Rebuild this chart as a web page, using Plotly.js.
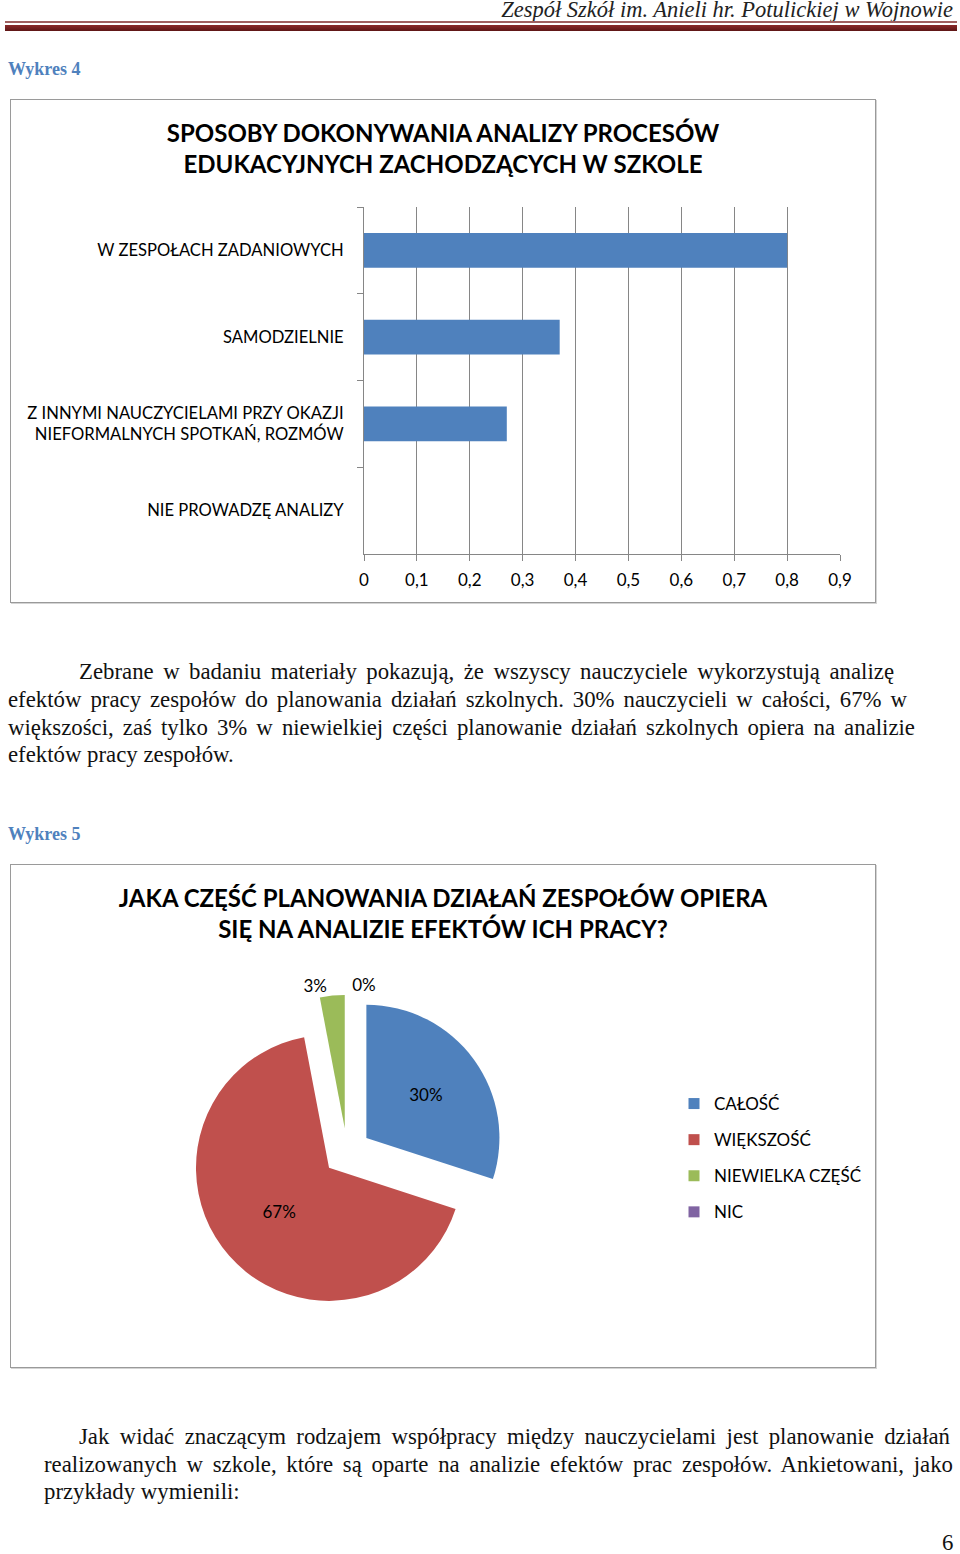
<!DOCTYPE html>
<html>
<head>
<meta charset="utf-8">
<script src="https://cdn.plot.ly/plotly-3.0.1.min.js"></script>
<style>
body { margin: 0; width: 960px; height: 1554px; position: relative; background: #fff; overflow: hidden; }
.abs { position: absolute; white-space: nowrap; }
.head { right: 7px; top: -3px; font: italic 22.5px 'Liberation Serif', serif; color: #222; }
.rule1 { left: 5px; width: 952px; top: 21px; height: 2px; background: #a06060; }
.rule2 { left: 5px; width: 952px; top: 25px; height: 6px; background: linear-gradient(#8a2a2a, #5e1616); }
.cap { left: 8px; font: bold 18px 'Liberation Serif', serif; color: #4F81BD; }
.txt { font: 22.8px 'Liberation Serif', serif; color: #111; line-height: 28px; }
.just { text-align: justify; text-align-last: justify; }
.box { border: 1px solid #9a9a9a; box-shadow: 1px 1px 0 #d4d4d4; }
</style>
</head>
<body>
<div class="abs head">Zespół Szkół im. Anieli hr. Potulickiej w Wojnowie</div>
<div class="abs rule1"></div>
<div class="abs rule2"></div>

<div class="abs cap" style="top:59px">Wykres 4</div>
<div id="bar" class="abs box" style="left:10px; top:99px; width:864px; height:502px;"></div>

<div class="abs txt just" style="left:79px; top:658px; width:815px;">Zebrane w badaniu materiały pokazują, że wszyscy nauczyciele wykorzystują analizę</div>
<div class="abs txt just" style="left:8px; top:686px; width:899px;">efektów pracy zespołów do planowania działań szkolnych. 30% nauczycieli w całości, 67% w</div>
<div class="abs txt just" style="left:8px; top:714px; width:907px;">większości, zaś tylko 3% w niewielkiej części planowanie działań szkolnych opiera na analizie</div>
<div class="abs txt" style="left:8px; top:741px;">efektów pracy zespołów.</div>

<div class="abs cap" style="top:824px">Wykres 5</div>
<div id="pie" class="abs box" style="left:10px; top:864px; width:864px; height:502px;"></div>

<div class="abs txt just" style="left:79px; top:1423px; width:871px;">Jak widać znaczącym rodzajem współpracy między nauczycielami jest planowanie działań</div>
<div class="abs txt just" style="left:44px; top:1451px; width:909px;">realizowanych w szkole, które są oparte na analizie efektów prac zespołów. Ankietowani, jako</div>
<div class="abs txt" style="left:44px; top:1478px;">przykłady wymienili:</div>
<div class="abs txt" style="left:942px; top:1529px;">6</div>

<script>
const FONT = 'Lato, Calibri, sans-serif'

// Wykres 4
const barTitle = 'SPOSOBY DOKONYWANIA ANALIZY PROCESÓW<br>EDUKACYJNYCH ZACHODZĄCYCH W SZKOLE'
const barCategories = [
  'W ZESPOŁACH ZADANIOWYCH',
  'SAMODZIELNIE',
  'Z INNYMI NAUCZYCIELAMI PRZY OKAZJI<br>NIEFORMALNYCH SPOTKAŃ, ROZMÓW',
  'NIE PROWADZĘ ANALIZY'
]
const barValues = [0.8, 0.37, 0.27, 0]

// Wykres 5
const pieTitle = 'JAKA CZĘŚĆ PLANOWANIA DZIAŁAŃ ZESPOŁÓW OPIERA<br>SIĘ NA ANALIZIE EFEKTÓW ICH PRACY?'
const pieLabels = ['CAŁOŚĆ', 'WIĘKSZOŚĆ', 'NIEWIELKA CZĘŚĆ', 'NIC']
const pieValues = [30, 67, 3, 0]
const pieColors = ['#4F81BD', '#C0504D', '#9BBB59', '#8064A2']

const config = {staticPlot: true, displayModeBar: false}
const axisGray = '#868686'
const W = 864, H = 502

const titleOf = (text) => ({
  text: text,
  font: {family: FONT, size: 24, weight: 700, color: '#000'},
  x: 0.5, xanchor: 'center', xref: 'container',
  y: 1 - 42 / H, yanchor: 'top', yref: 'container'
})

const barData = [{
  type: 'bar',
  orientation: 'h',
  x: barValues,
  y: barCategories,
  marker: {color: '#4F81BD'},
  hoverinfo: 'none'
}]
const barLayout = {
  width: W,
  height: H,
  margin: {l: 353, r: 35, t: 107, b: 48},
  font: {family: FONT, size: 16.6, color: '#000'},
  separators: ', ',
  showlegend: false,
  bargap: 0.6,
  paper_bgcolor: '#fff',
  plot_bgcolor: '#fff',
  title: titleOf(barTitle),
  xaxis: {
    range: [0, 0.9],
    tick0: 0,
    dtick: 0.1,
    ticks: 'outside',
    ticklen: 6,
    tickcolor: axisGray,
    showgrid: true,
    gridcolor: axisGray,
    showline: true,
    linecolor: axisGray,
    zeroline: false,
    ticklabelstandoff: 5,
    tickfont: {size: 17}
  },
  yaxis: {
    type: 'category',
    autorange: 'reversed',
    tickson: 'boundaries',
    ticks: 'outside',
    ticklen: 6,
    tickcolor: axisGray,
    showline: true,
    linecolor: axisGray,
    showgrid: false,
    ticklabelstandoff: 16,
    tickfont: {size: 16.6}
  }
}
Plotly.newPlot('bar', barData, barLayout, config)

// pie centre and size in px inside the box
const pcx = 336, pcy = 215, phalf = 157
const pieData = [{
  type: 'pie',
  labels: pieLabels,
  values: pieValues,
  sort: false,
  direction: 'clockwise',
  rotation: 0,
  pull: 0.18,
  marker: {colors: pieColors, line: {width: 0}},
  texttemplate: '%{percent:.0%}',
  textposition: ['inside', 'inside', 'outside', 'outside'],
  insidetextorientation: 'horizontal',
  textfont: {family: FONT, size: 17, color: '#000'},
  showlegend: false,
  hoverinfo: 'none',
  domain: {x: [(pcx - phalf) / W, (pcx + phalf) / W], y: [(pcy - phalf) / H, (pcy + phalf) / H]}
}]
// legend entries as empty traces, so the gap between rows can be set
pieLabels.forEach((lab, i) => {
  pieData.push({
    type: 'scatter',
    mode: 'markers',
    x: [null],
    y: [null],
    name: lab,
    legendgroup: 'g' + i,
    marker: {symbol: 'square', size: 11, color: pieColors[i]},
    showlegend: true,
    hoverinfo: 'none'
  })
})
const pieLayout = {
  width: W,
  height: H,
  margin: {l: 0, r: 0, t: 0, b: 0},
  font: {family: FONT, size: 17, color: '#000'},
  paper_bgcolor: '#fff',
  plot_bgcolor: '#fff',
  title: titleOf(pieTitle),
  xaxis: {visible: false},
  yaxis: {visible: false},
  legend: {
    x: 663 / W, xanchor: 'left',
    y: 1 - 221 / H, yanchor: 'top',
    font: {family: FONT, size: 17, color: '#000'},
    tracegroupgap: 11,
    bgcolor: 'rgba(0,0,0,0)'
  }
}
Plotly.newPlot('pie', pieData, pieLayout, config)
</script>
</body>
</html>
